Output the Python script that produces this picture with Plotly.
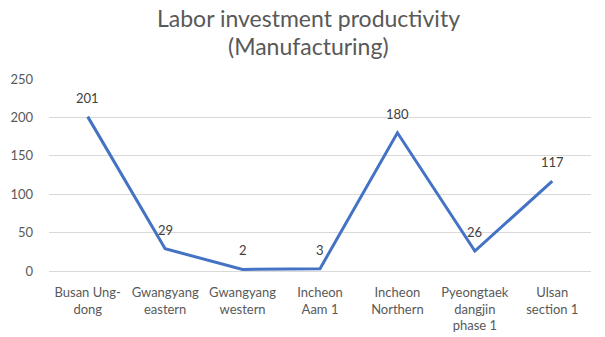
import plotly.graph_objects as go

categories = ["Busan Ung-<br>dong", "Gwangyang<br>eastern", "Gwangyang<br>western",
              "Incheon<br>Aam 1", "Incheon<br>Northern", "Pyeongtaek<br>dangjin<br>phase 1",
              "Ulsan<br>section 1"]
values = [201, 29, 2, 3, 180, 26, 117]
y_ticks = [0, 50, 100, 150, 200, 250]
title_lines = ["Labor investment productivity", "(Manufacturing)"]

FONT = "Lato, Open Sans, sans-serif"
L, R, T, B = 49, 14, 79, 66
W, H = 605, 337
ph = H - T - B
pw = W - L - R

fig = go.Figure()
fig.add_trace(go.Scatter(
    x=list(range(len(categories))), y=values, mode="lines",
    line=dict(color="#4472C4", width=3), showlegend=False,
))
for i, v in enumerate(values):
    fig.add_annotation(x=i, y=v, text=str(v), showarrow=False, yshift=19,
                       font=dict(family=FONT, size=13, color="#404040"))
for k, (line, ypx) in enumerate(zip(title_lines, [18, 46])):
    fig.add_annotation(xref="paper", yref="paper", x=(308 - L) / pw, xanchor="center",
                       y=1 + (T - ypx) / ph, yanchor="middle", text=line, showarrow=False,
                       font=dict(family=FONT, size=23, color="#595959"))
fig.update_layout(
    width=W, height=H,
    margin=dict(l=L, r=R, t=T, b=B, autoexpand=False),
    paper_bgcolor="white", plot_bgcolor="white",
    font=dict(family=FONT, size=13, color="#595959"),
)
fig.update_xaxes(
    tickmode="array", tickvals=list(range(len(categories))), ticktext=categories,
    range=[-0.5, len(categories) - 0.5], showgrid=False, showline=True,
    linecolor="#D9D9D9", linewidth=1, ticks="", zeroline=False, ticklabelstandoff=9,
    tickfont=dict(size=13, color="#595959"), automargin=False,
)
fig.update_yaxes(
    range=[0, 250], tickvals=y_ticks, showgrid=True, gridcolor="#D9D9D9",
    zeroline=False, showline=False, ticks="", ticklabelstandoff=15,
    tickfont=dict(size=13, color="#595959"), automargin=False,
)
fig.write_html("out.html")
